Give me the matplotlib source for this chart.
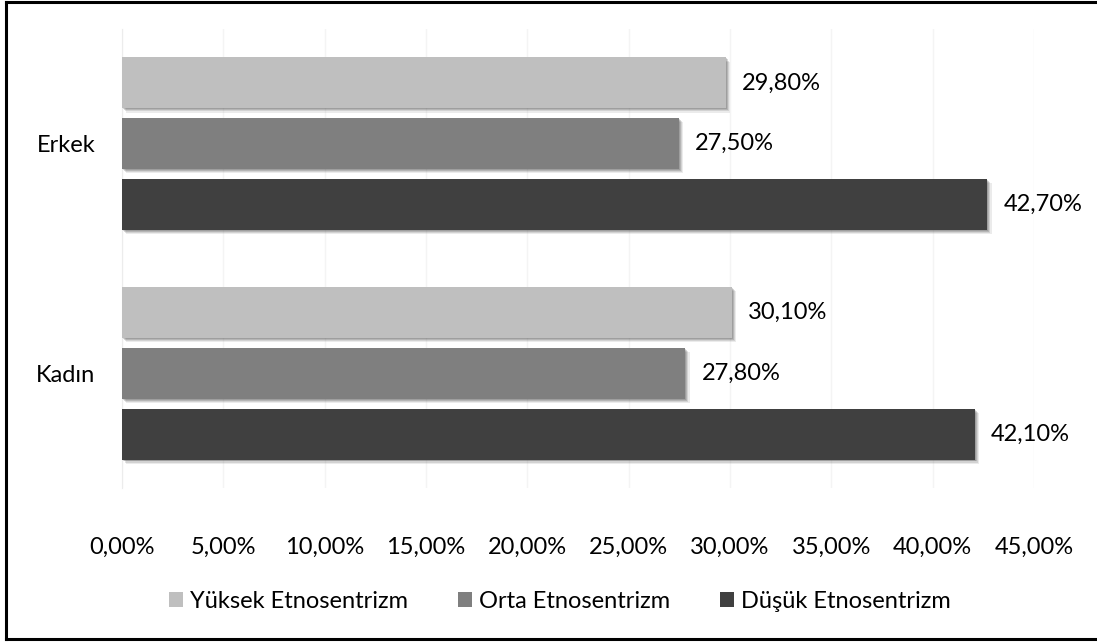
import matplotlib.pyplot as plt
import matplotlib.patheffects as pe
from matplotlib.patches import Patch
from matplotlib.ticker import FuncFormatter, MultipleLocator
from matplotlib.lines import Line2D
import numpy as np

plt.rcParams['font.family'] = ['Lato', 'DejaVu Sans']

# Veriler
cinsiyet = ["Kadın", "Erkek"]
seriler = ["Yüksek Etnosentrizm", "Orta Etnosentrizm", "Düşük Etnosentrizm"]
yuksek = [30.1, 29.8]
orta = [27.8, 27.5]
dusuk = [42.1, 42.7]
renkler = ["#bfbfbf", "#7f7f7f", "#404040"]
fs = 17

fig = plt.figure(figsize=(10.97, 6.43), dpi=100)
ax = fig.add_axes([122 / 1097, 1 - 488 / 643, (1034 - 122) / 1097, (488 - 29) / 643])

y = np.arange(len(cinsiyet))
h = 0.222
ofset = 0.265
# yumuşak gölge: birkaç kaydırılmış yarı saydam katman
golge = [pe.SimplePatchShadow(offset=(d, -d), shadow_rgbFace="#444444", alpha=a)
         for d, a in [(3.0, 0.10), (2.2, 0.15), (1.4, 0.2), (0.7, 0.2)]] + [pe.Normal()]

for degerler, kayma, renk in zip([yuksek, orta, dusuk], [ofset, 0, -ofset], renkler):
    bars = ax.barh(y + kayma, degerler, height=h, color=renk, zorder=3)
    for b, v in zip(bars, degerler):
        b.set_path_effects(golge)
        ax.annotate(f"{v:.2f}%".replace(".", ","), (v, b.get_y() + b.get_height() / 2),
                    xytext=(11.5, 0), textcoords="offset points", va="center", ha="left",
                    fontsize=fs, color="black")

ax.set_xlim(0, 45)
ax.set_ylim(-0.5, 1.5)
ax.xaxis.set_major_locator(MultipleLocator(5))
ax.xaxis.set_major_formatter(FuncFormatter(lambda v, p: f"{v:.2f}%".replace(".", ",")))
ax.set_yticks(y)
ax.set_yticklabels(cinsiyet)
ax.tick_params(axis="x", length=0, pad=35, labelsize=fs)
ax.tick_params(axis="y", length=0, pad=19, labelsize=fs)
ax.grid(axis="x", color="#f4f4f4", linewidth=1, zorder=0)
for s in ["top", "right", "bottom"]:
    ax.spines[s].set_visible(False)
ax.spines["left"].set_color("#ececec")

# Gösterge
tutamaklar = [Patch(facecolor=r, edgecolor="none", label=s) for r, s in zip(renkler, seriler)]
fig.legend(handles=tutamaklar, loc="center", bbox_to_anchor=(560 / 1097, 1 - 601 / 643),
           ncol=3, frameon=False, fontsize=fs, handlelength=0.6, handleheight=0.6,
           handletextpad=0.3, columnspacing=2.1)

# Çerçeve
W, H = 1097, 643
x0, x1, y0, y1 = 6 / W, 1.0, 1 - 2 / H, 1 - 639 / H
for xs, ys in [((x0, x0), (y0, y1)), ((x0, x1), (y0, y0)), ((x0, x1), (y1, y1))]:
    fig.add_artist(Line2D(xs, ys, color="black", linewidth=2.2, transform=fig.transFigure))

fig.savefig("out.png", dpi=100)
